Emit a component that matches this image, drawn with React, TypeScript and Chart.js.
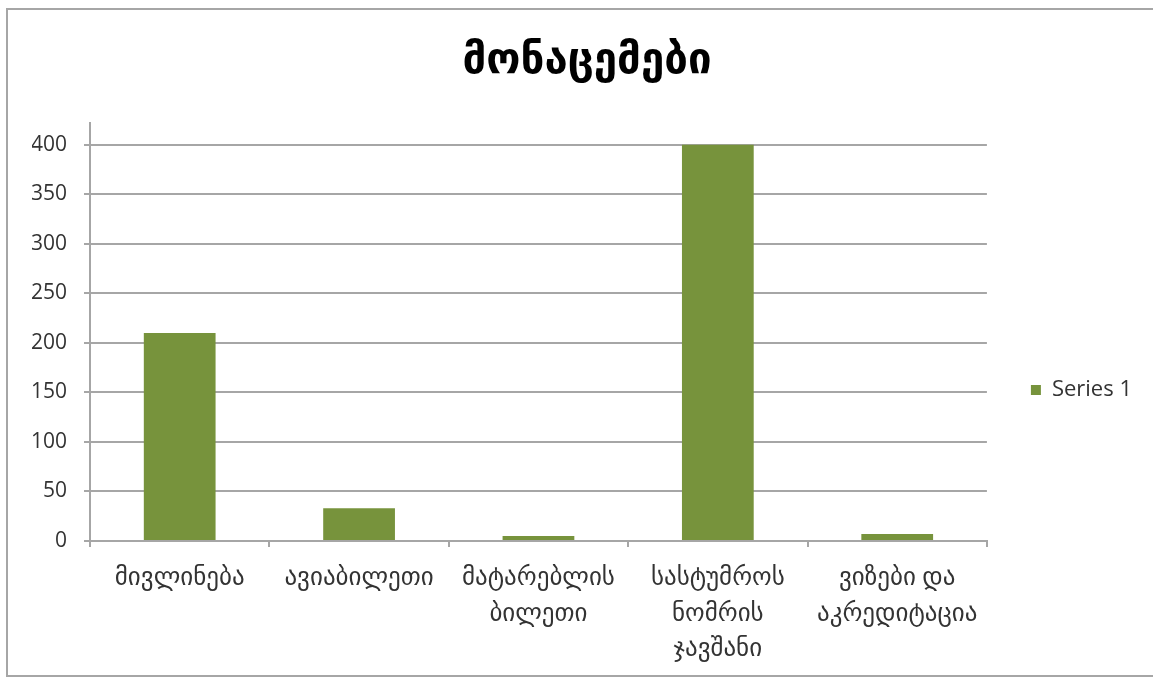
import React, { useEffect, useRef } from "react";
import { Chart, registerables } from "chart.js";

Chart.register(...registerables);

const TITLE = "მონაცემები";
const CATEGORIES: string[][] = [
  ["მივლინება"],
  ["ავიაბილეთი"],
  ["მატარებლის", "ბილეთი"],
  ["სასტუმროს", "ნომრის", "ჯავშანი"],
  ["ვიზები და", "აკრედიტაცია"],
];
const SERIES_NAME = "Series 1";
const SERIES_VALUES = [210, 33, 5, 400, 7];
const Y_MIN = 0;
const Y_MAX = 422;
const Y_TICKS = [0, 50, 100, 150, 200, 250, 300, 350, 400];

const FONT = "'Open Sans', 'DejaVu Sans', sans-serif";
const GRID = "#a6a6a6";

export default function App() {
  const ref = useRef<HTMLCanvasElement | null>(null);

  useEffect(() => {
    if (!ref.current) return;
    const chart = new Chart(ref.current, {
      type: "bar",
      data: {
        labels: CATEGORIES,
        datasets: [
          {
            label: SERIES_NAME,
            data: SERIES_VALUES,
            backgroundColor: "#77933C",
            borderWidth: 0,
            categoryPercentage: 0.8,
            barPercentage: 0.5,
          },
        ],
      },
      options: {
        responsive: false,
        animation: false,
        layout: { padding: { left: 32, right: 11, top: 0, bottom: 0 } },
        plugins: {
          title: {
            display: true,
            text: TITLE,
            color: "#000",
            font: { family: "'DejaVu Sans', sans-serif", size: 42, weight: "bold", lineHeight: 1.2 },
            padding: { top: 36.8, bottom: 35.8 },
          },
          legend: {
            position: "right",
            title: {
              display: true,
              text: " ",
              font: { size: 12, lineHeight: 1.2 },
              padding: { top: 85.6, bottom: 0 },
            },
            labels: {
              boxWidth: 10,
              boxHeight: 10,
              padding: 44,
              color: "#333",
              font: { family: FONT, size: 22 },
            },
          },
          tooltip: { enabled: false },
        },
        scales: {
          x: {
            grid: {
              display: true,
              drawOnChartArea: false,
              drawTicks: true,
              tickLength: 6,
              color: GRID,
              lineWidth: 2,
            },
            border: { color: GRID, width: 2 },
            ticks: {
              autoSkip: false,
              maxRotation: 0,
              minRotation: 0,
              color: "#333",
              padding: 13.5,
              font: { family: FONT, size: 25, lineHeight: 1.42 },
            },
            afterFit: (s: any) => {
              s.height = 139;
            },
          },
          y: {
            min: Y_MIN,
            max: Y_MAX,
            grid: {
              color: GRID,
              lineWidth: 2,
              drawTicks: true,
              tickLength: 6,
            },
            border: { color: GRID, width: 2 },
            ticks: {
              color: "#333",
              padding: 17,
              font: { family: FONT, size: 21 },
            },
            afterBuildTicks: (s: any) => {
              s.ticks = Y_TICKS.map((v) => ({ value: v }));
            },
            afterFit: (s: any) => {
              s.width = 58;
            },
          },
        },
      },
    });
    return () => chart.destroy();
  }, []);

  return (
    <div style={{ position: "absolute", left: 0, top: 0, width: 1153, height: 680, overflow: "hidden", background: "#fff" }}>
      <canvas ref={ref} width={1153} height={680} style={{ position: "absolute", left: 0, top: 0 }} />
      <div
        style={{
          position: "absolute",
          left: 6,
          top: 8,
          width: 1300,
          height: 669,
          border: "2px solid #a6a6a6",
          boxSizing: "border-box",
          pointerEvents: "none",
        }}
      />
    </div>
  );
}
